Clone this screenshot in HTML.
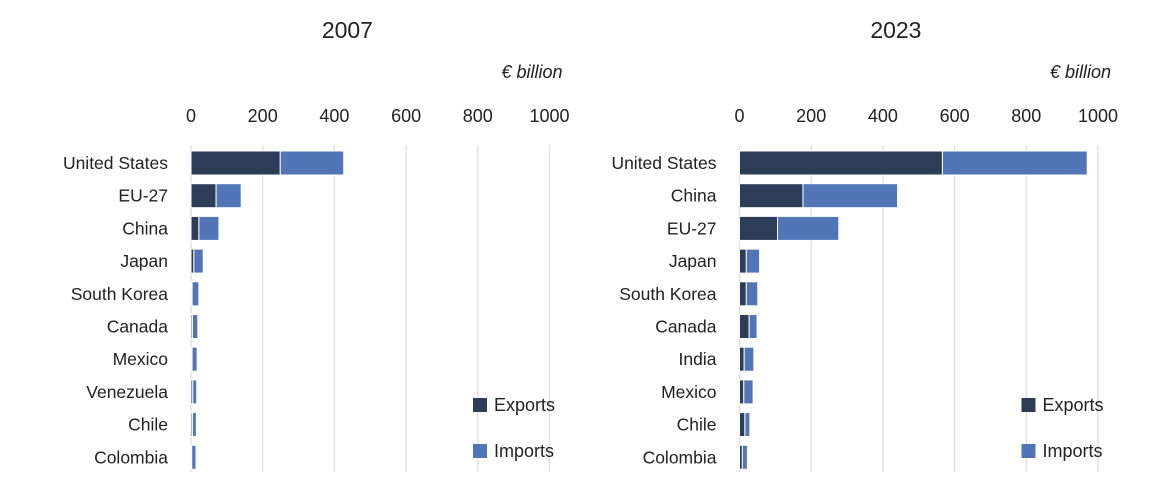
<!DOCTYPE html>
<html><head><meta charset="utf-8"><style>
body{margin:0;background:#fff;}
svg text{font-family:"Liberation Sans",sans-serif;fill:#222;}
</style></head><body>
<svg id="c" width="1170" height="493" xmlns="http://www.w3.org/2000/svg"></svg>
<script>
const cats2007 = ["United States","EU-27","China","Japan","South Korea","Canada","Mexico","Venezuela","Chile","Colombia"];
const exp2007 = [249,70,22,8,3,4,3,5,4,2];
const imp2007 = [177,70,56,26,19,15,14,11,11,12];
const cats2023 = ["United States","China","EU-27","Japan","South Korea","Canada","India","Mexico","Chile","Colombia"];
const exp2023 = [566,177,106,19,19,27,13,12,15,8];
const imp2023 = [404,264,171,37,32,22,27,26,14,14];
const ticks = [0,200,400,600,800,1000];
const NS="http://www.w3.org/2000/svg";
const svg=document.getElementById('c');
function mk(tag,attrs,parent){const e=document.createElementNS(NS,tag);for(const k in attrs)e.setAttribute(k,attrs[k]);(parent||svg).appendChild(e);return e;}
function panel(x0,title,cats,exp,imp,id){
  const g=mk('g',{});
  
  
  const sc=0.3585;
  const xs=v=>x0+v*sc;
  const rowY=i=>163+i*32.7;
  const t=mk('text',{x:xs(400)+13,y:38,'text-anchor':'middle','font-size':23},g);t.textContent=title;
  
  const u=mk('text',{x:xs(1000)+13,y:78,'text-anchor':'end','font-size':18,'font-style':'italic'},g);u.textContent='€ billion';
  
  ticks.forEach(v=>{
    const l=mk('line',{x1:xs(v),x2:xs(v),y1:145,y2:472,stroke:'#e2e2e2','stroke-width':1.5},g);
    
    const tt=mk('text',{x:xs(v),y:122,'text-anchor':'middle','font-size':18},g);tt.textContent=v;
    
  });
  cats.forEach((c,i)=>{
    const y=rowY(i);
    const lb=mk('text',{x:x0-23,y:y+6,'text-anchor':'end','font-size':17.5,textLength:0},g);lb.removeAttribute('textLength');lb.textContent=c;
    
    const r1=mk('rect',{x:xs(0),y:y-12,width:exp[i]*sc,height:24,fill:'#2e3d57',stroke:'#fff','stroke-width':1},g);
    
    const r2=mk('rect',{x:xs(exp[i]),y:y-12,width:imp[i]*sc,height:24,fill:'#5275b8',stroke:'#fff','stroke-width':1},g);
    
  });
  [['Exports','#2e3d57',405],['Imports','#5275b8',451]].forEach(([n,col,y])=>{
    const s=mk('rect',{x:x0+282,y:y-7,width:14,height:14,fill:col},g);
    
    const tx=mk('text',{x:x0+303,y:y+6,'font-size':18},g);tx.textContent=n;
    
  });
}
panel(191,'2007',cats2007,exp2007,imp2007,'chart-2007');
panel(739.5,'2023',cats2023,exp2023,imp2023,'chart-2023');
</script>
</body></html>
